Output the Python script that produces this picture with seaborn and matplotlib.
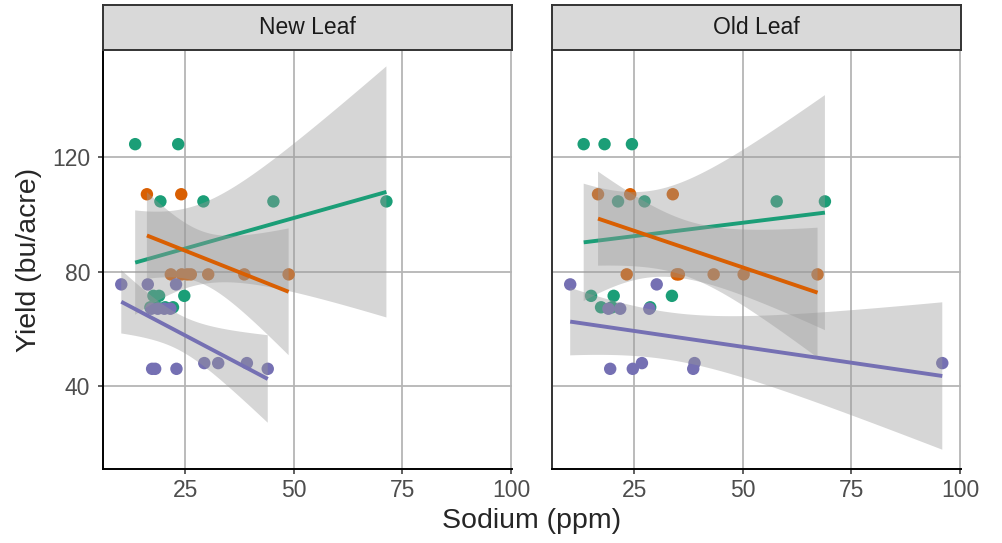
import numpy as np
import pandas as pd
import matplotlib.pyplot as plt
import seaborn as sns

sns.set_theme(style="white")
plt.rcParams['font.family'] = ['Liberation Sans', 'DejaVu Sans']

# Data
leaf_types = ['New Leaf', 'Old Leaf']
groups = ['Group 1', 'Group 2', 'Group 3']
colors = ['#1B9E77', '#D95F02', '#7570B3']

# New Leaf
new_g1_x = [13.5, 23.4, 19.3, 29.2, 45.3, 71.3, 24.8, 17.7, 19.0, 17.0, 20.4, 22.2, 18.5]
new_g1_y = [124.5, 124.5, 104.5, 104.5, 104.5, 104.5, 71.5, 71.5, 71.5, 67.5, 67.5, 67.5, 67.5]
new_g2_x = [16.2, 24.1, 21.7, 24.2, 25.5, 26.3, 30.3, 38.6, 48.8]
new_g2_y = [107, 107, 79, 79, 79, 79, 79, 79, 79]
new_g3_x = [10.3, 16.4, 22.9, 17.2, 18.7, 20.2, 21.6, 17.4, 18.1, 23.0, 29.4, 32.6, 39.2, 44.0]
new_g3_y = [75.5, 75.5, 75.5, 67, 67, 67, 67, 46, 46, 46, 48, 48, 48, 46]

# Old Leaf
old_g1_x = [13.4, 18.2, 24.5, 21.3, 27.4, 57.8, 68.9, 15.1, 20.3, 33.7, 17.4, 19.9, 28.7]
old_g1_y = [124.5, 124.5, 124.5, 104.5, 104.5, 104.5, 104.5, 71.5, 71.5, 71.5, 67.5, 67.5, 67.5]
old_g2_x = [16.7, 24.1, 33.9, 23.3, 34.8, 35.3, 43.3, 50.2, 67.2]
old_g2_y = [107, 107, 107, 79, 79, 79, 79, 79, 79]
old_g3_x = [10.3, 30.2, 19.1, 21.8, 28.5, 19.5, 24.7, 26.8, 38.6, 38.9, 95.9]
old_g3_y = [75.5, 75.5, 67, 67, 67, 46, 46, 48, 46, 48, 48]

x_ticks = [25, 50, 75, 100]
y_ticks = [40, 80, 120]

series = {
    ('New Leaf', 'Group 1'): (new_g1_x, new_g1_y),
    ('New Leaf', 'Group 2'): (new_g2_x, new_g2_y),
    ('New Leaf', 'Group 3'): (new_g3_x, new_g3_y),
    ('Old Leaf', 'Group 1'): (old_g1_x, old_g1_y),
    ('Old Leaf', 'Group 2'): (old_g2_x, old_g2_y),
    ('Old Leaf', 'Group 3'): (old_g3_x, old_g3_y),
}
rows = []
for (leaf, grp), (xs, ys) in series.items():
    for xv, yv in zip(xs, ys):
        rows.append({'leaf': leaf, 'group': grp, 'sodium': xv, 'yield': yv})
df = pd.DataFrame(rows)

# 97.5% t quantiles for the 95% confidence band (like geom_smooth(method="lm"))
try:
    from scipy import stats
    def t975(dof):
        return stats.t.ppf(0.975, dof)
except ImportError:
    t_table = {5: 2.571, 6: 2.447, 7: 2.365, 8: 2.306, 9: 2.262, 10: 2.228,
               11: 2.201, 12: 2.179, 13: 2.160, 14: 2.145, 15: 2.131}
    def t975(dof):
        return t_table[dof]


def lm_band(x, y, n_grid=80):
    x = np.asarray(x, float)
    y = np.asarray(y, float)
    n = len(x)
    slope, icpt = np.polyfit(x, y, 1)
    grid = np.linspace(x.min(), x.max(), n_grid)
    resid = y - (icpt + slope * x)
    s = np.sqrt((resid ** 2).sum() / (n - 2))
    sxx = ((x - x.mean()) ** 2).sum()
    se = s * np.sqrt(1 / n + (grid - x.mean()) ** 2 / sxx)
    fit = icpt + slope * grid
    half = t975(n - 2) * se
    return grid, fit - half, fit + half


fig = plt.figure(figsize=(10.03, 5.43), dpi=100)
panel_left = [0.1027, 0.5503]
panel_w = 0.4078
panel_b = 0.1363
panel_h = 0.7716

for k, leaf in enumerate(leaf_types):
    ax = fig.add_axes([panel_left[k], panel_b, panel_w, panel_h])
    sub = df[df['leaf'] == leaf]
    sns.scatterplot(data=sub, x='sodium', y='yield', hue='group', hue_order=groups,
                    palette=colors, s=80, linewidth=0, legend=False, ax=ax, zorder=2)
    for i, g in enumerate(groups):
        gd = sub[sub['group'] == g]
        grid, lo, hi = lm_band(gd['sodium'], gd['yield'])
        ax.fill_between(grid, lo, hi, facecolor='#999999', alpha=0.4,
                        edgecolor='none', zorder=3 + 2 * i)
        nl = len(ax.lines)
        sns.regplot(data=gd, x='sodium', y='yield', scatter=False, ci=None,
                    color=colors[i], line_kws={'lw': 2.8, 'solid_capstyle': 'butt'},
                    ax=ax)
        for ln in ax.lines[nl:]:
            ln.set_zorder(4 + 2 * i)

    ax.set_xlim(6.1, 100.2)
    ax.set_ylim(11, 157.4)
    ax.set_xticks(x_ticks)
    ax.set_yticks(y_ticks)
    ax.grid(True, color='#B5B5B5', lw=1.3)
    ax.set_axisbelow(True)
    ax.set_xlabel('')
    ax.set_ylabel('')
    for s in ['top', 'right']:
        ax.spines[s].set_visible(False)
    ax.spines['bottom'].set_color('black')
    ax.spines['bottom'].set_linewidth(1.4)
    ax.spines['left'].set_color('black' if k == 0 else '#333333')
    ax.spines['left'].set_linewidth(1.4)
    ax.tick_params(axis='both', length=3.6, width=1.1, color='#333333',
                   labelcolor='#4D4D4D', labelsize=16.5,
                   bottom=True, left=(k == 0))
    ax.tick_params(axis='x', pad=3.5)
    ax.tick_params(axis='y', pad=5.5)
    if k == 1:
        ax.set_yticklabels([])

    # facet strip
    sax = fig.add_axes([panel_left[k], 0.9079, panel_w, 0.0829])
    sax.set_facecolor('#D9D9D9')
    sax.set_xticks([])
    sax.set_yticks([])
    for s in sax.spines.values():
        s.set_color('#333333')
        s.set_linewidth(1.4)
    sax.text(0.5, 0.5, leaf, ha='center', va='center', fontsize=16.5,
             color='#1A1A1A', transform=sax.transAxes)

fig.text(0.5304, 0.04, 'Sodium (ppm)', ha='center', va='center', fontsize=20.5)
fig.text(0.029, 0.522, 'Yield (bu/acre)', ha='center', va='center', fontsize=20.5,
         rotation=90)

plt.savefig('out.png', dpi=100)
plt.close()
